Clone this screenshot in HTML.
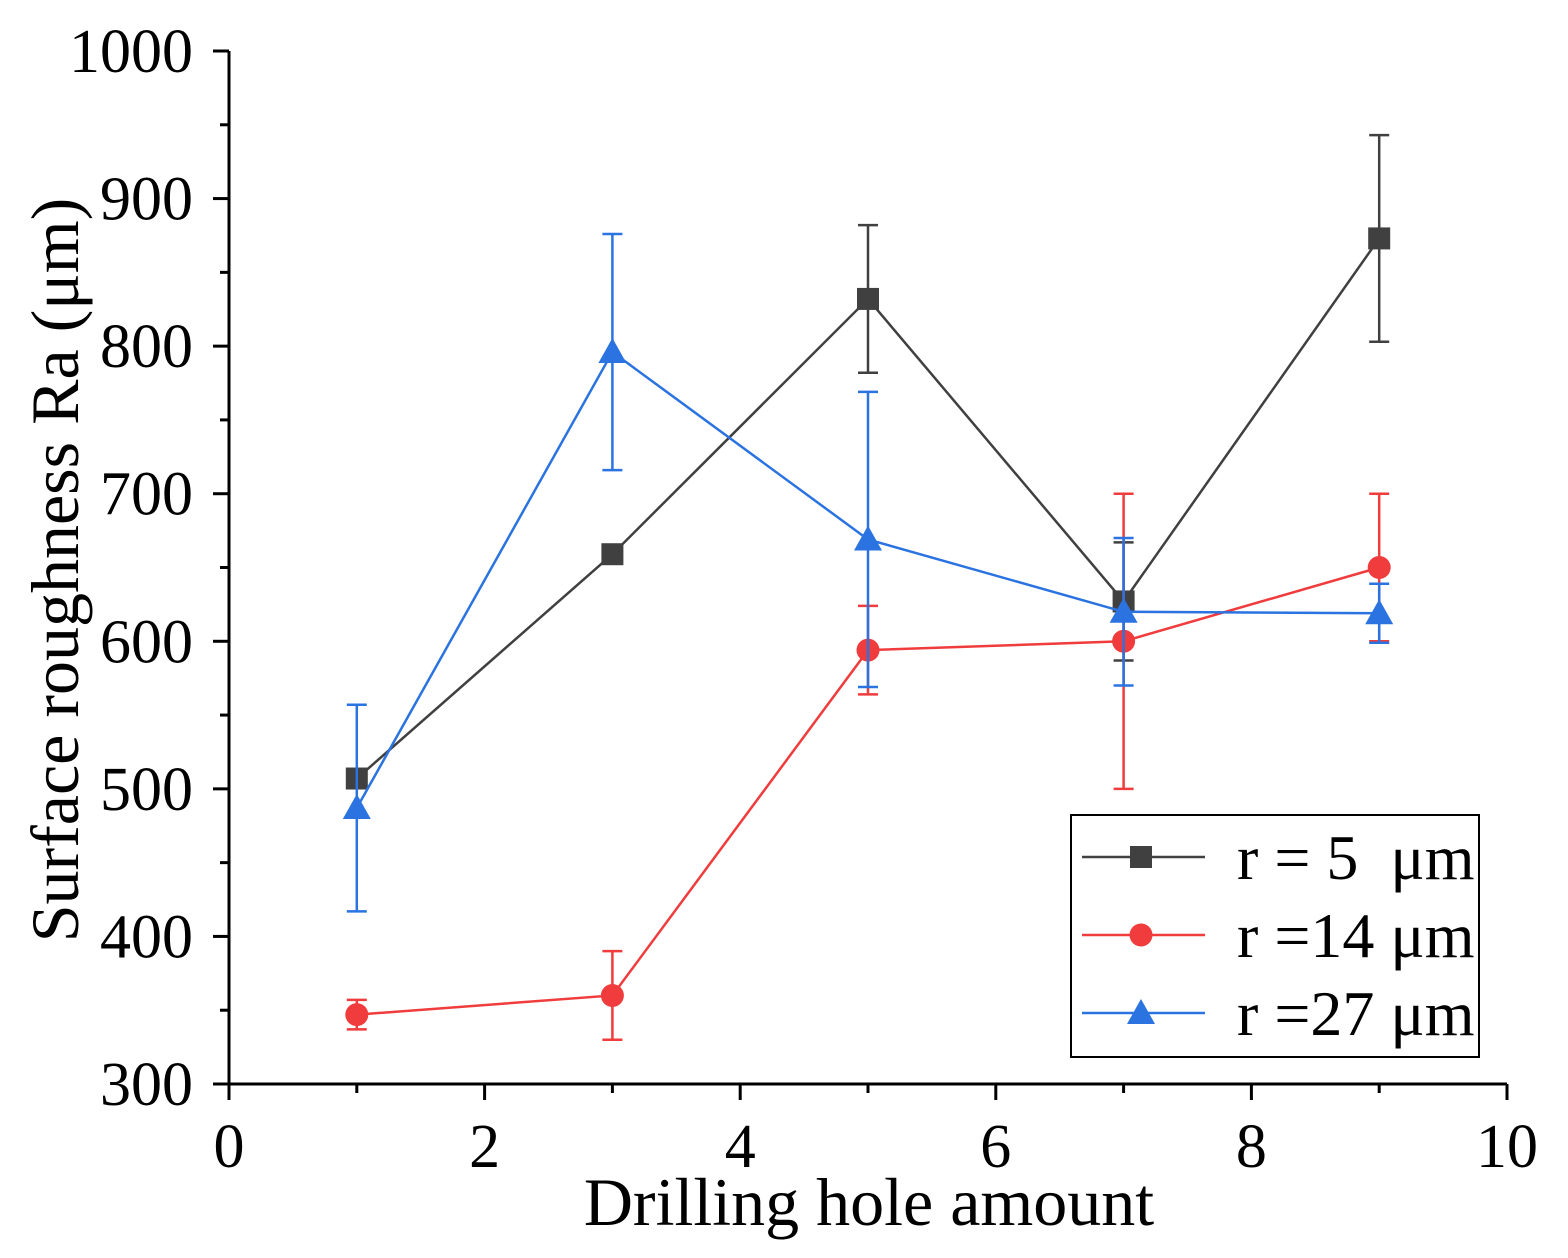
<!DOCTYPE html>
<html><head><meta charset="utf-8"><style>
html,body{margin:0;padding:0;background:#fff;}
svg{display:block;font-family:"Liberation Serif",serif;}
</style></head><body>
<svg id="chart" width="1568" height="1258" viewBox="0 0 1568 1258" xmlns="http://www.w3.org/2000/svg"></svg>
<script>
const xTicks=[0,2,4,6,8,10];
const yTicks=[300,400,500,600,700,800,900,1000];
const xs=[1,3,5,7,9];
const s5=[507,659,832,627,873];
const s5Err=[0,0,50,40,70];
const s14=[347,360,594,600,650];
const s14Err=[10,30,30,100,50];
const s27=[487,796,669,620,619];
const s27Err=[70,80,100,50,20];
const legendLabels=["r = 5  μm","r =14 μm","r =27 μm"];

const svg=document.getElementById('chart');
const NS="http://www.w3.org/2000/svg";
const X0=229,X1=1507,Y0=1084,Y1=51;
const xS=v=>X0+(v-0)/(10-0)*(X1-X0);
const yS=v=>Y0-(v-300)/(1000-300)*(Y0-Y1);
function mk(tag,attrs,parent){const e=document.createElementNS(NS,tag);for(const k in attrs)e.setAttribute(k,attrs[k]);(parent||svg).appendChild(e);return e;}

const axes=mk('g',{});


mk('line',{x1:X0,y1:Y1,x2:X0,y2:Y0+1.5,stroke:'#000','stroke-width':3},axes);
mk('line',{x1:X0-1.5,y1:Y0,x2:X1,y2:Y0,stroke:'#000','stroke-width':3},axes);
xTicks.forEach((t,i)=>{
  mk('line',{x1:xS(t),y1:Y0,x2:xS(t),y2:Y0+16,stroke:'#000','stroke-width':3},axes);
  if(i<xTicks.length-1) mk('line',{x1:xS(t+1),y1:Y0,x2:xS(t+1),y2:Y0+9,stroke:'#000','stroke-width':3},axes);
  const tx=mk('text',{x:xS(t),y:Y0+83,'text-anchor':'middle','font-size':62},axes);
  tx.textContent=t;
  
  
});
yTicks.forEach((t,i)=>{
  mk('line',{x1:X0-16,y1:yS(t),x2:X0,y2:yS(t),stroke:'#000','stroke-width':3},axes);
  if(i<yTicks.length-1) mk('line',{x1:X0-9,y1:yS(t+50),x2:X0,y2:yS(t+50),stroke:'#000','stroke-width':3},axes);
  const tx=mk('text',{x:X0-36,y:yS(t)+21,'text-anchor':'end','font-size':62},axes);
  tx.textContent=t;
  
  
});
const xt=mk('text',{x:869,y:1225,'text-anchor':'middle','font-size':68});
xt.textContent='Drilling hole amount';


const yt=mk('text',{x:0,y:0,'text-anchor':'middle','font-size':68,transform:'translate(78,570) rotate(-90)'});
yt.textContent='Surface roughness Ra (μm)';



function marker(type,x,y,color,g){
  if(type==='sq') mk('rect',{x:x-11,y:y-11,width:22,height:22,fill:color},g);
  else if(type==='ci') mk('circle',{cx:x,cy:y,r:11.5,fill:color},g);
  else mk('polygon',{points:`${x},${y-14} ${x-14},${y+11} ${x+14},${y+11}`,fill:color},g);
}
const series=[
  {name:'series-r5',vals:s5,err:s5Err,color:'#404040',m:'sq'},
  {name:'series-r14',vals:s14,err:s14Err,color:'#f03c3c',m:'ci'},
  {name:'series-r27',vals:s27,err:s27Err,color:'#2a73e0',m:'tr'}
];
series.forEach(s=>{
  const g=mk('g',{});
  
  
  s.vals.forEach((v,i)=>{
    const e=s.err[i];
    if(e>0){
      const x=xS(xs[i]);
      mk('line',{x1:x,y1:yS(v-e),x2:x,y2:yS(v+e),stroke:s.color,'stroke-width':2.5},g);
      mk('line',{x1:x-10,y1:yS(v-e),x2:x+10,y2:yS(v-e),stroke:s.color,'stroke-width':2.5},g);
      mk('line',{x1:x-10,y1:yS(v+e),x2:x+10,y2:yS(v+e),stroke:s.color,'stroke-width':2.5},g);
    }
  });
  mk('polyline',{points:s.vals.map((v,i)=>xS(xs[i])+','+yS(v)).join(' '),fill:'none',stroke:s.color,'stroke-width':2.5},g);
  s.vals.forEach((v,i)=>marker(s.m,xS(xs[i]),yS(v),s.color,g));
});

const lg=mk('g',{});


mk('rect',{x:1071,y:815,width:408,height:242,fill:'#fff',stroke:'#000','stroke-width':2},lg);
series.forEach((s,i)=>{
  const y=857+i*78;
  const e=mk('g',{},lg);
  
  
  mk('line',{x1:1082,y1:y,x2:1205,y2:y,stroke:s.color,'stroke-width':2.5},e);
  marker(s.m,1141,y,s.color,e);
  const t=mk('text',{x:1237,y:y+22,'font-size':64,'xml:space':'preserve'},e);
  t.setAttribute('style','white-space:pre');
  t.textContent=legendLabels[i];
});
</script>
</body></html>
